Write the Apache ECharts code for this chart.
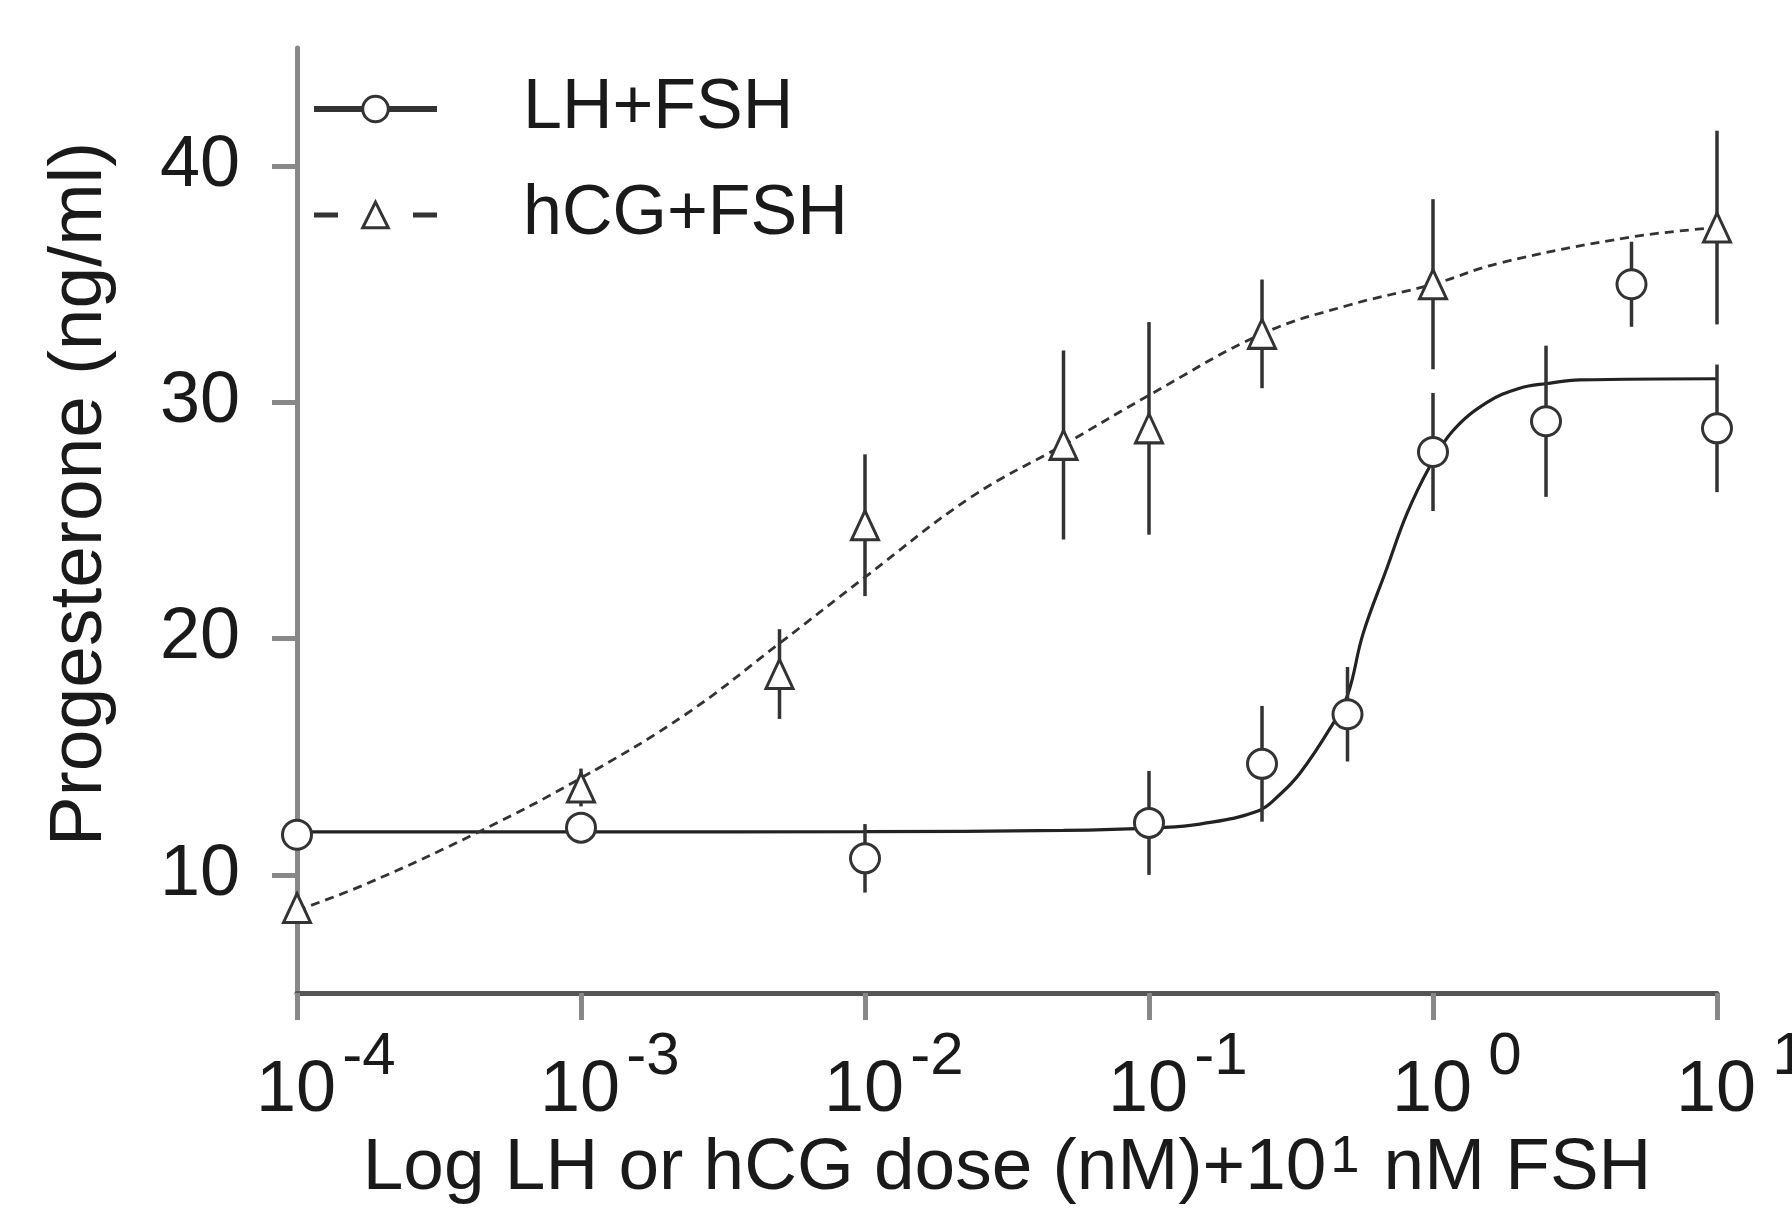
<!DOCTYPE html>
<html>
<head>
<meta charset="utf-8">
<script src="https://cdn.jsdelivr.net/npm/echarts@6/dist/echarts.min.js"></script>
<style>
html,body{margin:0;padding:0;background:#fff;}
#chart{width:1792px;height:1219px;}
</style>
</head>
<body>
<div id="chart"></div>
<script>
// ---- data ----
const seriesNames = ['LH+FSH', 'hCG+FSH'];
const yTicks = [10, 20, 30, 40];

const lhDose = [0.0001, 0.001, 0.01, 0.1, 0.25, 0.5, 1, 2.5, 5, 10];
const lhMean = [11.7, 12.0, 10.7, 12.2, 14.7, 16.8, 27.9, 29.2, 35.0, 28.9];
const lhErr  = [0.4, 0.4, 1.45, 2.2, 2.45, 2.0, 2.5, 3.2, 1.8, 2.7];

const hcgDose = [0.0001, 0.001, 0.005, 0.01, 0.05, 0.1, 0.25, 1, 10];
const hcgMean = [8.6, 13.7, 18.5, 24.8, 28.2, 28.9, 32.9, 35.0, 37.4];
const hcgErr  = [0.3, 0.8, 1.9, 3.0, 4.0, 4.5, 2.3, 3.6, 4.1];

// fitted curves
const lhFitDose  = [0.0001, 0.001, 0.01, 0.05, 0.109, 0.151, 0.242, 0.289, 0.34, 0.434, 0.5, 0.567, 0.689, 0.81, 0.975, 1.175, 1.55, 2.02, 2.52, 3.3, 10];
const lhFitValue = [11.82, 11.82, 11.83, 11.88, 12.0, 12.15, 12.7, 13.4, 14.3, 16.2, 17.6, 20.2, 23.0, 25.3, 27.3, 28.8, 30.0, 30.6, 30.8, 30.95, 31.0];

const hcgFitDose  = [0.0001, 0.000174, 0.00044, 0.001, 0.00234, 0.005, 0.01, 0.0237, 0.05, 0.1, 0.25, 0.5, 1, 1.72, 5, 10];
const hcgFitValue = [8.5, 9.6, 11.84, 14.1, 16.8, 19.8, 22.6, 26.0, 28.2, 30.3, 32.9, 34.1, 35.0, 35.9, 37.0, 37.4];

const xTitleMain = 'Log LH or hCG dose (nM)+10';
const xTitleSup = '1';
const xTitleEnd = ' nM FSH';
const yTitle = 'Progesterone (ng/ml)';

// ---- build ----
const FONT = '"Liberation Sans", Arial, sans-serif';
const TXT = '#1a1a1a';
const zip = (a, b) => a.map((v, i) => [v, b[i]]);
const errData = (d, m, e) => d.map((v, i) => [v, m[i] - e[i], m[i] + e[i]]);

function errorBar(name, data) {
  return {
    type: 'custom', name: name, z: 3, silent: true,
    data: data,
    encode: { x: 0, y: [1, 2] },
    renderItem: function (params, api) {
      const x = api.value(0);
      const p1 = api.coord([x, api.value(1)]);
      const p2 = api.coord([x, api.value(2)]);
      return { type: 'line', shape: { x1: p1[0], y1: p1[1], x2: p2[0], y2: p2[1] },
               style: { stroke: '#333', lineWidth: 3.5 } };
    }
  };
}

const chart = echarts.init(document.getElementById('chart'), null, { renderer: 'canvas' });
chart.setOption({
  animation: false,
  backgroundColor: '#fff',
  grid: { left: 297, right: 75, top: 48, bottom: 226, containLabel: false, outerBoundsMode: 'none' },
  legend: {
    orient: 'vertical', left: 311, top: 74, padding: 0,
    itemWidth: 123, itemHeight: 32, itemGap: 36,
    textStyle: { fontFamily: FONT, fontSize: 70, color: TXT, lineHeight: 70, padding: [0, 0, 0, 81] },
    data: [
      { name: seriesNames[0], lineStyle: { width: 6, color: '#333', type: 'solid' },
        itemStyle: { color: '#fff', borderColor: '#333', borderWidth: 3 } },
      { name: seriesNames[1], lineStyle: { width: 5, color: '#333', type: [24, 75] },
        itemStyle: { color: '#fff', borderColor: '#333', borderWidth: 3 } }
    ]
  },
  xAxis: {
    type: 'log', logBase: 10, min: 0.0001, max: 10, splitNumber: 5,
    axisLine: { onZero: false, lineStyle: { color: '#555', width: 5 } },
    axisTick: { length: 27, lineStyle: { color: '#888', width: 5 } },
    splitLine: { show: false },
    minorTick: { show: false },
    axisLabel: {
      margin: 34, showMinLabel: true, showMaxLabel: true, color: TXT,
      formatter: function (v) {
        const e = Math.round(Math.log10(v));
        return '{pad| }{b|10}{s|' + e + '}';
      },
      rich: {
        pad: { width: 62, fontSize: 10 },
        b: { fontFamily: FONT, fontSize: 72, color: TXT, lineHeight: 100, verticalAlign: 'bottom' },
        s: { fontFamily: FONT, fontSize: 60, color: TXT, lineHeight: 44, verticalAlign: 'top', width: 62, align: 'left', padding: [0, 0, 0, 2] }
      }
    },
    name: xTitleMain + '{s|' + xTitleSup + '}' + xTitleEnd,
    nameLocation: 'middle', nameGap: 137,
    nameTextStyle: {
      fontFamily: FONT, fontSize: 73, color: TXT,
      rich: { s: { fontFamily: FONT, fontSize: 52, color: TXT, verticalAlign: 'top', lineHeight: 60, padding: [0, 4, 0, 4] } }
    }
  },
  yAxis: {
    type: 'value', min: 5, max: 45,
    axisLine: { onZero: false, lineStyle: { color: '#888', width: 5 } },
    axisTick: { length: 25, lineStyle: { color: '#888', width: 5 }, customValues: yTicks },
    axisLabel: { margin: 57, fontFamily: FONT, fontSize: 72, color: TXT, customValues: yTicks },
    splitLine: { show: false }
  },
  graphic: [{
    type: 'text', x: 80, y: 494, rotation: Math.PI / 2,
    style: { text: yTitle, fontFamily: FONT, fontSize: 75, fill: TXT, align: 'center', verticalAlign: 'middle' }
  }],
  series: [
    { type: 'line', name: seriesNames[0], data: zip(lhFitDose, lhFitValue), smooth: 0.4,
      symbol: 'circle', showSymbol: false, z: 2, lineStyle: { color: '#222', width: 3.2 } },
    { type: 'line', name: seriesNames[1], data: zip(hcgFitDose, hcgFitValue), smooth: 0.4,
      symbol: 'triangle', showSymbol: false, z: 2, lineStyle: { color: '#333', width: 2.8, type: [9, 6] } },
    errorBar('lhErr', errData(lhDose, lhMean, lhErr)),
    errorBar('hcgErr', errData(hcgDose, hcgMean, hcgErr)),
    { type: 'scatter', name: 'lhPts', data: zip(lhDose, lhMean), symbol: 'circle', symbolSize: 29, z: 4,
      itemStyle: { color: '#fff', borderColor: '#333', borderWidth: 3, opacity: 1 } },
    { type: 'scatter', name: 'hcgPts', data: zip(hcgDose, hcgMean), symbol: 'triangle', symbolSize: [27, 29], z: 4,
      itemStyle: { color: '#fff', borderColor: '#333', borderWidth: 3, opacity: 1 } }
  ]
});
</script>
</body>
</html>
